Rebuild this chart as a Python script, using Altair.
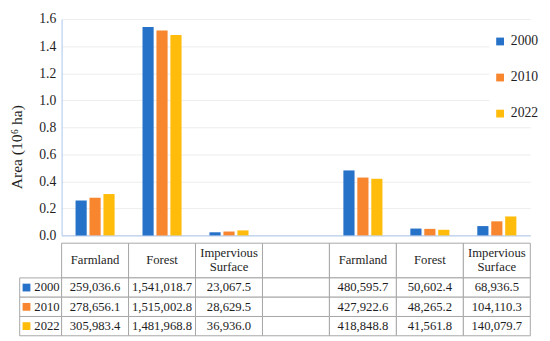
import altair as alt
import pandas as pd

categories = ["Farmland", "Forest", "Impervious Surface", "", "Farmland", "Forest", "Impervious Surface"]
years = ["2000", "2010", "2022"]
values_2000 = [259036.6, 1541018.7, 23067.5, None, 480595.7, 50602.4, 68936.5]
values_2010 = [278656.1, 1515002.8, 28629.5, None, 427922.6, 48265.2, 104110.3]
values_2022 = [305983.4, 1481968.8, 36936.0, None, 418848.8, 41561.8, 140079.7]
y_ticks = [0.0, 0.2, 0.4, 0.6, 0.8, 1.0, 1.2, 1.4, 1.6]

colors = ["#2672C9", "#F7862E", "#FFBC0A"]
FONT = "Liberation Serif"
AXIS_BLUE = "#A9C4EB"
GRID = "#ECECEC"
BORDER = "#A6A6A6"
TEXT = "#1E1E1E"

series = [values_2000, values_2010, values_2022]
keys = [f"c{i}" for i in range(len(categories))]

# ---- bar data ----
bar_rows = []
for y, vals in zip(years, series):
    for k, v in zip(keys, vals):
        if v is not None:
            bar_rows.append({"key": k, "year": y, "value": v})
bar_df = pd.DataFrame(bar_rows)

color_scale = alt.Scale(domain=years, range=colors)

bars = alt.Chart(bar_df).transform_calculate(
    area="datum.value / 1000000"
).mark_bar().encode(
    x=alt.X("key:N", sort=keys,
            scale=alt.Scale(domain=keys, paddingInner=0, paddingOuter=0),
            axis=alt.Axis(labels=False, ticks=False, title=None, grid=False,
                          domainColor=AXIS_BLUE, domainWidth=1)),
    xOffset=alt.XOffset("year:N", sort=years,
                        scale=alt.Scale(domain=years, paddingInner=0.2, paddingOuter=1.0)),
    y=alt.Y("area:Q", scale=alt.Scale(domain=[0, 1.6], nice=False),
            axis=alt.Axis(values=y_ticks, format=".1f", title="Area (10⁶ ha)",
                          labelFont=FONT, labelFontSize=14, labelColor=TEXT,
                          labelPadding=6, ticks=False, domainColor=AXIS_BLUE,
                          gridColor=GRID, titleFont=FONT, titleFontSize=16,
                          titleFontWeight="normal", titleColor=TEXT, titlePadding=15,
                          titleY=131)),
    color=alt.Color("year:N", scale=color_scale,
                    legend=alt.Legend(title=None, orient="none", legendX=439, legendY=12,
                                      symbolType="square", symbolSize=64,
                                      symbolStrokeWidth=0, labelFont=FONT,
                                      labelFontSize=14, labelColor=TEXT,
                                      rowPadding=23, padding=4, fillColor="white",
                                      labelOffset=4)),
).properties(width=481, height=222)

# ---- table data ----
KEY_W = 0.626
HEAD_H = 1.8
cells = []
for i, c in enumerate(categories):
    cells.append({"kind": "header", "x0": i, "x1": i + 1, "y0": 0, "y1": HEAD_H,
                  "label": c.replace(" ", "\n"), "year": "", "value": None})
for r, (y, vals) in enumerate(zip(years, series)):
    cells.append({"kind": "key", "x0": -KEY_W, "x1": 0, "y0": HEAD_H + r, "y1": HEAD_H + r + 1,
                  "label": y, "year": y, "value": None})
    for i, v in enumerate(vals):
        cells.append({"kind": "value", "x0": i, "x1": i + 1, "y0": HEAD_H + r,
                      "y1": HEAD_H + r + 1, "label": "", "year": y, "value": v})
cell_df = pd.DataFrame(cells)

xs = alt.Scale(domain=[0, len(categories)], nice=False, zero=False)
ys = alt.Scale(domain=[0, HEAD_H + len(years)], nice=False, zero=False, reverse=True)

base = alt.Chart(cell_df).transform_calculate(
    xm="(datum.x0 + datum.x1) / 2", ym="(datum.y0 + datum.y1) / 2"
)

rects = base.mark_rect(fill="white", stroke=BORDER, strokeWidth=1).encode(
    x=alt.X("x0:Q", scale=xs, axis=None), x2="x1:Q",
    y=alt.Y("y0:Q", scale=ys, axis=None), y2="y1:Q",
)
headers1 = base.transform_filter(
    "datum.kind == 'header' && indexof(datum.label, '\\n') < 0"
).mark_text(font=FONT, fontSize=13, color=TEXT).encode(
    x=alt.X("xm:Q", scale=xs, axis=None), y=alt.Y("ym:Q", scale=ys, axis=None),
    text="label:N")
headers2 = base.transform_filter(
    "datum.kind == 'header' && indexof(datum.label, '\\n') >= 0"
).mark_text(font=FONT, fontSize=13, color=TEXT, lineBreak="\n", lineHeight=15, dy=-8).encode(
    x=alt.X("xm:Q", scale=xs, axis=None), y=alt.Y("ym:Q", scale=ys, axis=None),
    text="label:N")
values = base.transform_filter("datum.kind == 'value' && isValid(datum.value)").mark_text(
    font=FONT, fontSize=13, color=TEXT
).encode(x=alt.X("xm:Q", scale=xs, axis=None), y=alt.Y("ym:Q", scale=ys, axis=None),
         text=alt.Text("value:Q", format=",.1f"))
key_text = base.transform_filter("datum.kind == 'key'").mark_text(
    font=FONT, fontSize=13, color=TEXT, align="right", dx=-2
).encode(x=alt.X("x1:Q", scale=xs, axis=None), y=alt.Y("ym:Q", scale=ys, axis=None),
         text="label:N")
key_sq = base.transform_filter("datum.kind == 'key'").mark_square(
    size=64, opacity=1, xOffset=7
).encode(x=alt.X("x0:Q", scale=xs, axis=None), y=alt.Y("ym:Q", scale=ys, axis=None),
         color=alt.Color("year:N", scale=color_scale, legend=None))

table = alt.layer(rects, headers1, headers2, values, key_text, key_sq).properties(
    width=481, height=95)

chart = alt.vconcat(bars, table, spacing=0).resolve_scale(
    color="independent"
).resolve_legend(color="independent").configure_view(stroke=None).properties(
    padding={"top": 0, "left": 0, "right": 0, "bottom": 0}
)

chart.save("out.html", embed_options={"renderer": "svg", "actions": False})
